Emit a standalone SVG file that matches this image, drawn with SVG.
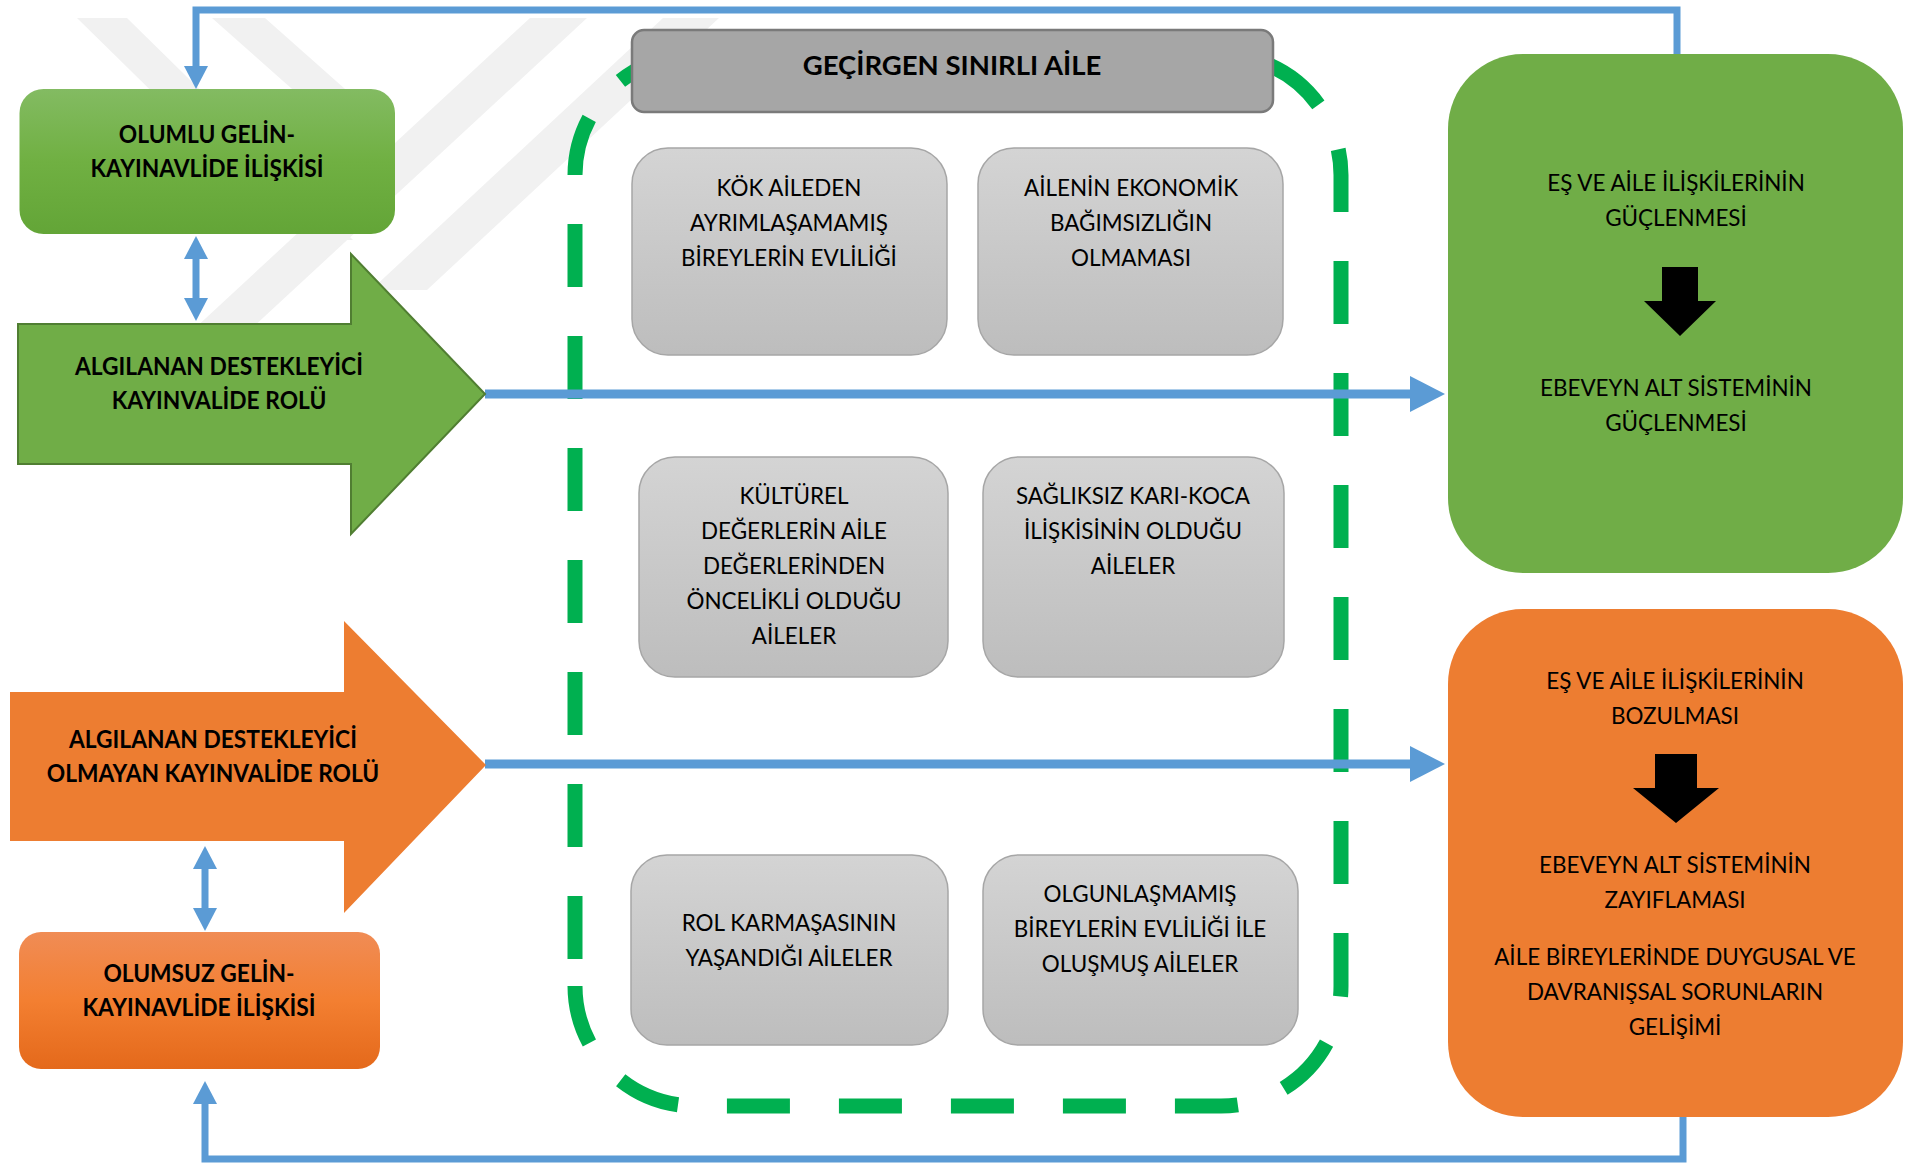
<svg xmlns="http://www.w3.org/2000/svg" width="1910" height="1165" viewBox="0 0 1910 1165">
<style>
.tb{font-family:Lato,'Liberation Sans',sans-serif;font-weight:700;font-size:24.5px;text-anchor:middle;fill:#000;transform-box:fill-box;transform-origin:50% 50%;transform:scaleX(0.93)}
.th{font-family:Lato,'Liberation Sans',sans-serif;font-weight:700;font-size:27.5px;text-anchor:middle;fill:#000}
.tr{font-family:Lato,'Liberation Sans',sans-serif;font-weight:400;font-size:24px;text-anchor:middle;fill:#000;transform-box:fill-box;transform-origin:50% 50%;transform:scaleX(0.935)}
.gray{fill:url(#gGray);stroke:#a6a6a6;stroke-width:1.5}
.conn{fill:none;stroke:#5b9bd5;stroke-width:7}
.connw{fill:none;stroke:#5b9bd5;stroke-width:9}
.wm{fill:#f1f1f1}
.dash{fill:none;stroke:#00b050;stroke-width:15;stroke-dasharray:63 49}
</style>
<defs>
<linearGradient id="gGray" x1="0" y1="0" x2="0" y2="1">
<stop offset="0" stop-color="#d4d4d4"/><stop offset="1" stop-color="#bdbdbd"/>
</linearGradient>
<linearGradient id="gGreen" x1="0" y1="0" x2="0" y2="1">
<stop offset="0" stop-color="#83bb62"/><stop offset="0.5" stop-color="#70b042"/><stop offset="1" stop-color="#63a537"/>
</linearGradient>
<linearGradient id="gOrange" x1="0" y1="0" x2="0" y2="1">
<stop offset="0" stop-color="#f08c55"/><stop offset="0.5" stop-color="#f37f31"/><stop offset="1" stop-color="#e4691b"/>
</linearGradient>
<marker id="aS" markerUnits="userSpaceOnUse" markerWidth="24" markerHeight="24" refX="0" refY="12" orient="auto-start-reverse" viewBox="0 0 23 24">
<path d="M0,0 L23,12 L0,24 Z" fill="#5b9bd5"/>
</marker>
<marker id="aL" markerUnits="userSpaceOnUse" markerWidth="35" markerHeight="36" refX="0" refY="18" orient="auto" viewBox="0 0 35 36">
<path d="M0,0 L35,18 L0,36 Z" fill="#5b9bd5"/>
</marker>
</defs>
<rect width="1910" height="1165" fill="#fff"/>

<g id="watermark">
<polygon class="wm" points="77,18 127,18 353,240 303,240"/>
<polygon class="wm" points="212,18 265,18 380,120 327,120"/>
<polygon class="wm" points="530,18 587,18 250,330 193,330"/>
<polygon class="wm" points="663,18 719,18 427,290 371,290"/>
</g>

<g id="boundary">
<path class="dash" d="M575,175 A120,120 0 0 1 695,55 H1221" stroke-dashoffset="4"/>
<path class="dash" d="M1221,55 A120,120 0 0 1 1341,175 V986" stroke-dashoffset="-50.5"/>
<path class="dash" d="M1341,986 A120,120 0 0 1 1221,1106 H695 A120,120 0 0 1 575,986" stroke-dashoffset="-59.5"/>
<path class="dash" d="M575,986 V175" stroke-dashoffset="-27"/>
</g>

<g id="connectors">
<path class="conn" d="M1677,60 V10 H196 V66" marker-end="url(#aS)"/>
<path class="conn" d="M1683,1112 V1159 H205 V1104" marker-end="url(#aS)"/>
<path class="conn" d="M196,259 V298" marker-start="url(#aS)" marker-end="url(#aS)"/>
<path class="conn" d="M205,869 V908" marker-start="url(#aS)" marker-end="url(#aS)"/>
<path class="connw" d="M485,394 H1410" marker-end="url(#aL)"/>
<path class="connw" d="M485,764 H1410" marker-end="url(#aL)"/>
</g>

<g id="olumlu">
<rect x="19.5" y="89" width="375.5" height="145" rx="24" fill="url(#gGreen)"/>
<text class="tb" x="207" y="143">OLUMLU GELİN-</text>
<text class="tb" x="207" y="177">KAYINAVLİDE İLİŞKİSİ</text>
</g>

<g id="destekleyici">
<polygon points="18,324 351,324 351,254 485,394 351,534 351,464 18,464" fill="#70ad47" stroke="#507e32" stroke-width="2"/>
<text class="tb" x="219" y="375">ALGILANAN DESTEKLEYİCİ</text>
<text class="tb" x="219" y="409">KAYINVALİDE ROLÜ</text>
</g>

<g id="destekleyici-olmayan">
<polygon points="10,692 344,692 344,621 486,765 344,913 344,841 10,841" fill="#ed7d31"/>
<text class="tb" x="213" y="748">ALGILANAN DESTEKLEYİCİ</text>
<text class="tb" x="213" y="782">OLMAYAN KAYINVALİDE ROLÜ</text>
</g>

<g id="olumsuz">
<rect x="19" y="932" width="361" height="137" rx="22" fill="url(#gOrange)"/>
<text class="tb" x="199" y="982">OLUMSUZ GELİN-</text>
<text class="tb" x="199" y="1016">KAYINAVLİDE İLİŞKİSİ</text>
</g>

<g id="header">
<rect x="632" y="30" width="641" height="82" rx="12" fill="#a6a6a6" stroke="#7a7a7a" stroke-width="2.5"/>
<text class="th" x="952" y="75">GEÇİRGEN SINIRLI AİLE</text>
</g>

<g id="box1">
<rect class="gray" x="632" y="148" width="315" height="207" rx="36"/>
<text class="tr" x="789" y="196">KÖK AİLEDEN</text>
<text class="tr" x="789" y="231">AYRIMLAŞAMAMIŞ</text>
<text class="tr" x="789" y="266">BİREYLERİN EVLİLİĞİ</text>
</g>

<g id="box2">
<rect class="gray" x="978" y="148" width="305" height="207" rx="36"/>
<text class="tr" x="1131" y="196">AİLENİN EKONOMİK</text>
<text class="tr" x="1131" y="231">BAĞIMSIZLIĞIN</text>
<text class="tr" x="1131" y="266">OLMAMASI</text>
</g>

<g id="box3">
<rect class="gray" x="639" y="457" width="309" height="220" rx="36"/>
<text class="tr" x="794" y="504">KÜLTÜREL</text>
<text class="tr" x="794" y="539">DEĞERLERİN AİLE</text>
<text class="tr" x="794" y="574">DEĞERLERİNDEN</text>
<text class="tr" x="794" y="609">ÖNCELİKLİ OLDUĞU</text>
<text class="tr" x="794" y="644">AİLELER</text>
</g>

<g id="box4">
<rect class="gray" x="983" y="457" width="301" height="220" rx="36"/>
<text class="tr" x="1133" y="504">SAĞLIKSIZ KARI-KOCA</text>
<text class="tr" x="1133" y="539">İLİŞKİSİNİN OLDUĞU</text>
<text class="tr" x="1133" y="574">AİLELER</text>
</g>

<g id="box5">
<rect class="gray" x="631" y="855" width="317" height="190" rx="36"/>
<text class="tr" x="789" y="931">ROL KARMAŞASININ</text>
<text class="tr" x="789" y="966">YAŞANDIĞI AİLELER</text>
</g>

<g id="box6">
<rect class="gray" x="983" y="855" width="315" height="190" rx="36"/>
<text class="tr" x="1140" y="902">OLGUNLAŞMAMIŞ</text>
<text class="tr" x="1140" y="937">BİREYLERİN EVLİLİĞİ İLE</text>
<text class="tr" x="1140" y="972">OLUŞMUŞ AİLELER</text>
</g>

<g id="sonuc-olumlu">
<rect x="1448" y="54" width="455" height="519" rx="75" fill="#70ad47"/>
<text class="tr" x="1676" y="191">EŞ VE AİLE İLİŞKİLERİNİN</text>
<text class="tr" x="1676" y="226">GÜÇLENMESİ</text>
<polygon points="1662,267 1698,267 1698,301 1716,301 1680,336 1644,301 1662,301" fill="#000"/>
<text class="tr" x="1676" y="396">EBEVEYN ALT SİSTEMİNİN</text>
<text class="tr" x="1676" y="431">GÜÇLENMESİ</text>
</g>

<g id="sonuc-olumsuz">
<rect x="1448" y="609" width="455" height="508" rx="75" fill="#ed7d31"/>
<text class="tr" x="1675" y="689">EŞ VE AİLE İLİŞKİLERİNİN</text>
<text class="tr" x="1675" y="724">BOZULMASI</text>
<polygon points="1655,754 1697,754 1697,788 1719,788 1676,823 1633,788 1655,788" fill="#000"/>
<text class="tr" x="1675" y="873">EBEVEYN ALT SİSTEMİNİN</text>
<text class="tr" x="1675" y="908">ZAYIFLAMASI</text>
<text class="tr" x="1675" y="965">AİLE BİREYLERİNDE DUYGUSAL VE</text>
<text class="tr" x="1675" y="1000">DAVRANIŞSAL SORUNLARIN</text>
<text class="tr" x="1675" y="1035">GELİŞİMİ</text>
</g>
</svg>
